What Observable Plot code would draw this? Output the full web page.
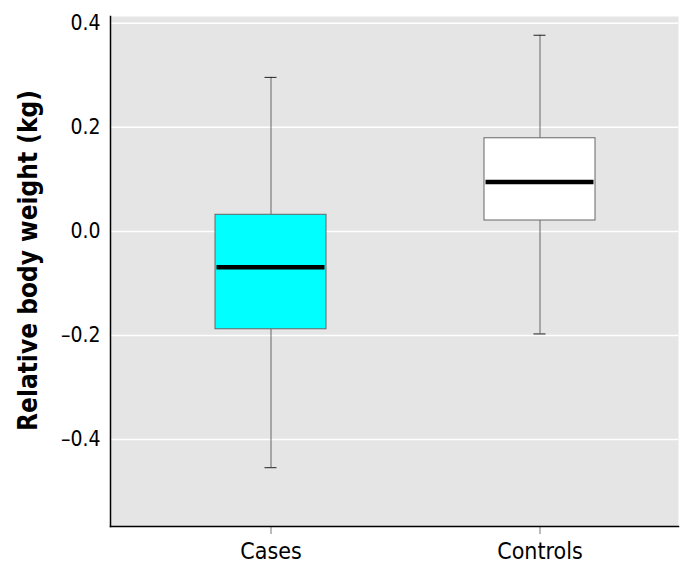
<!DOCTYPE html>
<html>
<head>
<meta charset="utf-8">
<script src="https://cdn.jsdelivr.net/npm/d3@7"></script>
<script src="https://cdn.jsdelivr.net/npm/@observablehq/plot@0.6"></script>
<style>
  html, body { margin: 0; padding: 0; background: white; }
  svg text { font-stretch: condensed; }
</style>
</head>
<body>
<div id="chart"></div>
<script>
const categories = ["Cases", "Controls"];
const whiskerLow = [-0.454, -0.197];
const q1 = [-0.188, 0.021];
const median = [-0.069, 0.095];
const q3 = [0.032, 0.179];
const whiskerHigh = [0.296, 0.377];
const boxFills = ["#00ffff", "#ffffff"];
const yTicks = [-0.4, -0.2, 0.0, 0.2, 0.4];
const yTickLabels = ["\u20130.4", "\u20130.2", "0.0", "0.2", "0.4"];
const yTitle = "Relative body weight (kg)";

const data = categories.map((c, i) => ({
  cat: c, lo: whiskerLow[i], q1: q1[i], med: median[i], q3: q3[i], hi: whiskerHigh[i], fill: boxFills[i]
}));

const font = "'Liberation Sans Narrow', 'DejaVu Sans Condensed', 'DejaVu Sans', sans-serif";

const chart = Plot.plot({
  width: 684,
  height: 571,
  marginLeft: 110,
  marginRight: 6,
  marginTop: 16,
  marginBottom: 45,
  style: { fontFamily: font, background: "white", color: "black", fontStretch: "condensed" },
  x: { domain: categories, paddingInner: 0.587, paddingOuter: 0.349, align: 0.557, label: null },
  y: { domain: [-0.567, 0.413], label: null },
  marks: [
    Plot.frame({ fill: "#e5e5e5", stroke: null }),
    Plot.ruleY(yTicks, { stroke: "white", strokeWidth: 1.5 }),
    Plot.ruleX(data, { x: "cat", y1: "lo", y2: "q1", stroke: "#666", strokeWidth: 1 }),
    Plot.ruleX(data, { x: "cat", y1: "q3", y2: "hi", stroke: "#666", strokeWidth: 1 }),
    Plot.tickY(data, { x: "cat", y: "lo", stroke: "#222", strokeWidth: 1, insetLeft: 49.5, insetRight: 49.5 }),
    Plot.tickY(data, { x: "cat", y: "hi", stroke: "#222", strokeWidth: 1, insetLeft: 49.5, insetRight: 49.5 }),
    Plot.barY(data, { x: "cat", y1: "q1", y2: "q3", fill: "fill", stroke: "#666", strokeWidth: 1 }),
    Plot.tickY(data, { x: "cat", y: "med", stroke: "black", strokeWidth: 4.5, insetLeft: 1.5, insetRight: 1.5 }),
    Plot.axisY(yTicks, { tickSize: 0, tickPadding: 10, fontSize: 21, tickFormat: (d, i) => yTickLabels[i], label: null }),
    Plot.axisX({ tickSize: 8, stroke: "#777", tickPadding: 8, fontSize: 23, label: null }),
    Plot.frame({ anchor: "left", stroke: "black", strokeWidth: 1.5 }),
    Plot.frame({ anchor: "bottom", stroke: "black", strokeWidth: 1.5 }),
    Plot.text([yTitle], { frameAnchor: "left", textAnchor: "middle", rotate: -90, dx: -82, dy: -11, fontSize: 26, fontWeight: "bold", fill: "black" })
  ]
});

document.getElementById("chart").appendChild(chart);
</script>
</body>
</html>
